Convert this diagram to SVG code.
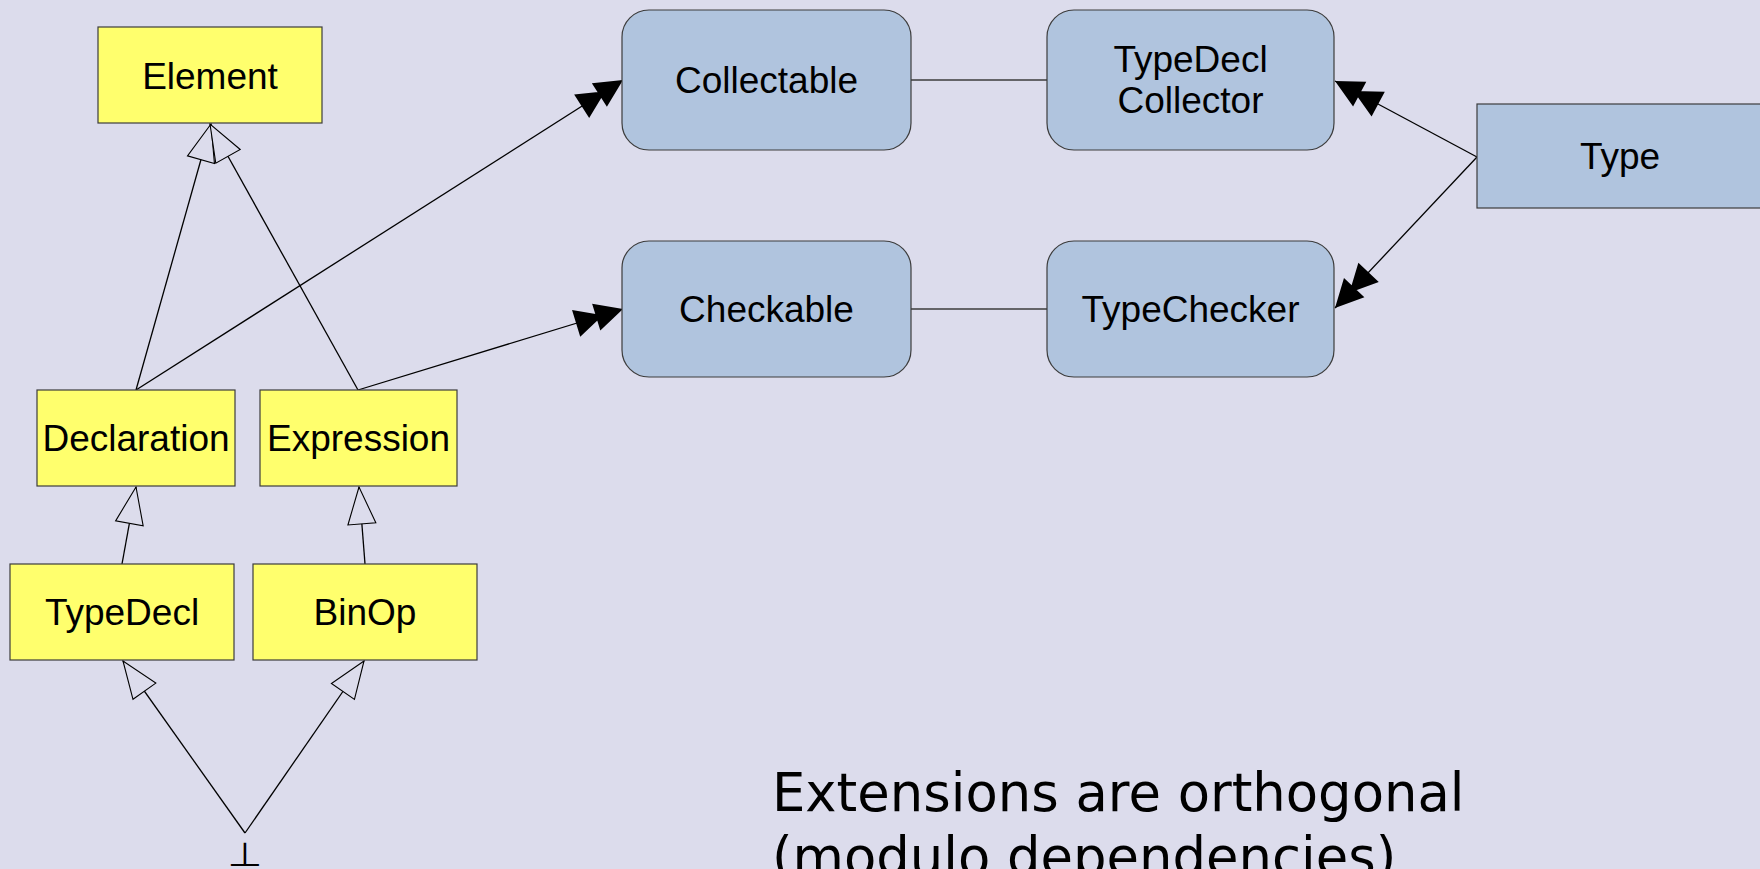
<svg xmlns="http://www.w3.org/2000/svg" width="1760" height="869" viewBox="0 0 1760 869">
  <style>
    .cls { fill: #ffff6d; stroke: #3c3c3c; stroke-width: 1.2; }
    .ext { fill: #b0c4de; stroke: #3c3c3c; stroke-width: 1.2; }
    .lbl { font-family: "Liberation Sans", Arial, sans-serif; font-size: 37px; fill: #000; text-anchor: middle; }
    .edge { stroke: #000; stroke-width: 1.3; fill: none; }
    .assoc { stroke: #3c3c3c; stroke-width: 1.3; fill: none; }
    .gen { marker-end: url(#hollow); }
    .dep { marker-end: url(#double); }
  </style>
  <defs>
    <marker id="hollow" viewBox="-39 -16 41 32" refX="0" refY="0" markerWidth="41" markerHeight="32" markerUnits="userSpaceOnUse" orient="auto">
      <path d="M0,0 L-37,-14 L-37,14 Z" fill="#dcdcec" stroke="#000" stroke-width="1.1"/>
    </marker>
    <marker id="double" viewBox="-51 -16 53 32" refX="0" refY="0" markerWidth="53" markerHeight="32" markerUnits="userSpaceOnUse" orient="auto">
      <path d="M0,0 L-28,-14 L-28,14 Z M-21,0 L-49,-14 L-49,14 Z" fill="#000"/>
    </marker>
  </defs>

  <rect x="0" y="0" width="1760" height="869" fill="#dcdcec"/>

  <!-- connectors -->
  <g id="connectors">
    <line class="assoc" x1="911" y1="80" x2="1047" y2="80"/>
    <line class="assoc" x1="911" y1="309" x2="1047" y2="309"/>
    <line class="edge gen" x1="136" y1="390" x2="211" y2="124"/>
    <line class="edge gen" x1="358" y1="390" x2="210" y2="124"/>
    <line class="edge gen" x1="122" y1="564" x2="136" y2="487"/>
    <line class="edge gen" x1="365" y1="564" x2="359" y2="487"/>
    <line class="edge gen" x1="245" y1="833" x2="123" y2="661"/>
    <line class="edge gen" x1="245" y1="833" x2="364" y2="661"/>
    <line class="edge dep" x1="136" y1="390" x2="623" y2="80"/>
    <line class="edge dep" x1="358" y1="390" x2="623" y2="309"/>
    <line class="edge dep" x1="1477" y1="157" x2="1335" y2="81"/>
    <line class="edge dep" x1="1477" y1="157" x2="1335" y2="308"/>
  </g>

  <g id="element">
    <rect class="cls" x="98" y="27" width="224" height="96"/>
    <text class="lbl" x="210" y="89">Element</text>
  </g>
  <g id="declaration">
    <rect class="cls" x="37" y="390" width="198" height="96"/>
    <text class="lbl" x="136" y="451">Declaration</text>
  </g>
  <g id="expression">
    <rect class="cls" x="260" y="390" width="197" height="96"/>
    <text class="lbl" x="358.5" y="451">Expression</text>
  </g>
  <g id="typedecl">
    <rect class="cls" x="10" y="564" width="224" height="96"/>
    <text class="lbl" x="122" y="625">TypeDecl</text>
  </g>
  <g id="binop">
    <rect class="cls" x="253" y="564" width="224" height="96"/>
    <text class="lbl" x="365" y="625">BinOp</text>
  </g>
  <g id="bottom">
    <text x="245" y="0" transform="translate(0,866) scale(1,0.83)" font-family="DejaVu Sans, sans-serif" font-size="40" text-anchor="middle" fill="#000">⊥</text>
  </g>

  <g id="collectable">
    <rect class="ext" x="622" y="10" width="289" height="140" rx="27" ry="27"/>
    <text class="lbl" x="766.5" y="93">Collectable</text>
  </g>
  <g id="typedecl-collector">
    <rect class="ext" x="1047" y="10" width="287" height="140" rx="27" ry="27"/>
    <text class="lbl" x="1190.5" y="72">TypeDecl</text>
    <text class="lbl" x="1190.5" y="113">Collector</text>
  </g>
  <g id="checkable">
    <rect class="ext" x="622" y="241" width="289" height="136" rx="27" ry="27"/>
    <text class="lbl" x="766.5" y="322">Checkable</text>
  </g>
  <g id="typechecker">
    <rect class="ext" x="1047" y="241" width="287" height="136" rx="27" ry="27"/>
    <text class="lbl" x="1190.5" y="322">TypeChecker</text>
  </g>
  <g id="type">
    <rect class="ext" x="1477" y="104" width="300" height="104"/>
    <text class="lbl" x="1620" y="169">Type</text>
  </g>

  <g id="caption" font-family="DejaVu Sans, sans-serif" font-size="52.8" fill="#000">
    <text x="772" y="811">Extensions are orthogonal</text>
    <text x="772" y="875">(modulo dependencies)</text>
  </g>
</svg>
